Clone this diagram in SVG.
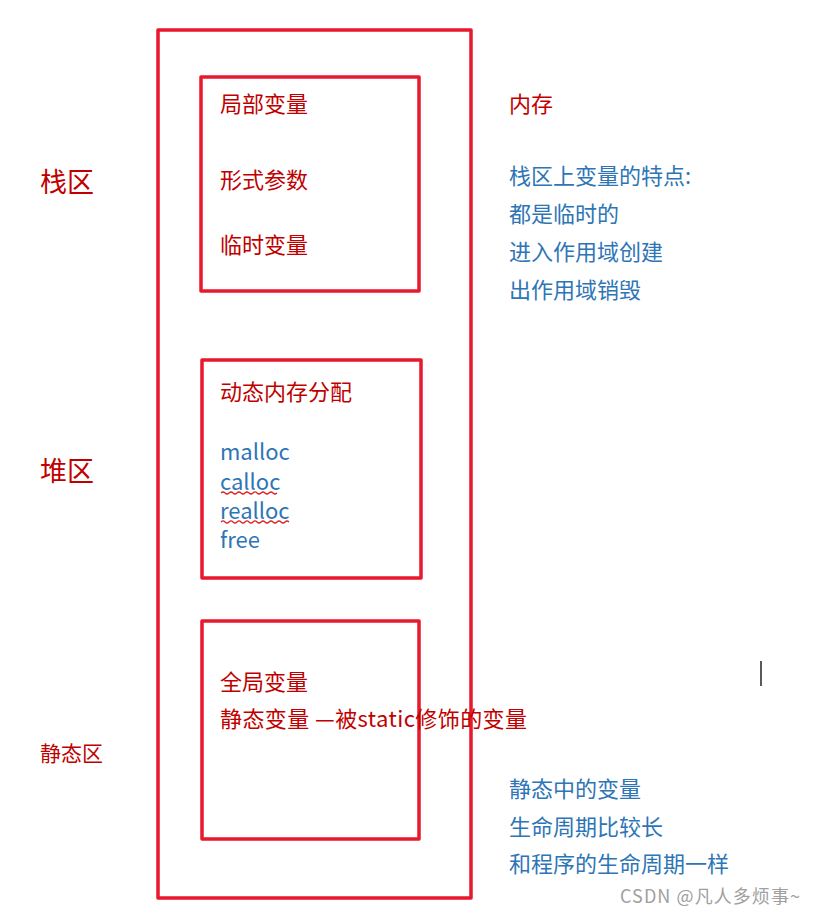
<svg xmlns="http://www.w3.org/2000/svg" width="817" height="917" viewBox="0 0 817 917">
<style>
.box{fill:none;stroke:#e8192c;stroke-width:3.5;stroke-linejoin:round}
text{font-family:"Noto Sans CJK SC","Noto Sans",sans-serif;font-size:22px}
.r{fill:#c00000}
.b{fill:#2e75b6}
.big{font-size:27px}
.wm{fill:#a0a0a0;font-size:18px}
.wave{fill:none;stroke:#e02020;stroke-width:1.2}
</style>
<rect width="817" height="917" fill="#ffffff"/>
<g id="memory">
<rect class="box" x="158" y="30" width="313" height="868"/>
<text class="r" x="509" y="112">内存</text>
</g>
<g id="stack">
<rect class="box" x="201" y="77" width="218" height="214"/>
<text class="r" x="220" y="112">局部变量</text>
<text class="r" x="220" y="188">形式参数</text>
<text class="r" x="220" y="253">临时变量</text>
<text class="r big" x="40" y="192">栈区</text>
</g>
<g id="heap">
<rect class="box" x="202" y="360" width="219" height="218"/>
<text class="r" x="220" y="400">动态内存分配</text>
<text class="b" x="220" y="460">malloc</text>
<text class="b" x="220" y="490">calloc</text>
<text class="b" x="220" y="519">realloc</text>
<text class="b" x="220" y="548">free</text>
<text class="r big" x="40" y="481">堆区</text>
</g>
<g id="static">
<rect class="box" x="202" y="621" width="217" height="218"/>
<text class="r" x="220" y="690">全局变量</text>
<text class="r" x="220" y="727" textLength="307" lengthAdjust="spacing">静态变量 —被static修饰的变量</text>
<text class="r" x="40" y="761" style="font-size:21px">静态区</text>
</g>
<g id="notes">
<text class="b" x="509" y="184">栈区上变量的特点:</text>
<text class="b" x="509" y="222">都是临时的</text>
<text class="b" x="509" y="260">进入作用域创建</text>
<text class="b" x="509" y="298">出作用域销毁</text>
<text class="b" x="509" y="797">静态中的变量</text>
<text class="b" x="509" y="835">生命周期比较长</text>
<text class="b" x="509" y="872">和程序的生命周期一样</text>
</g>
<g id="connectors">
<path class="wave" d="M221,493 q2,-2 4,0 t4,0 t4,0 t4,0 t4,0 t4,0 t4,0 t4,0 t4,0 t4,0 t4,0 t4,0 t4,0 t4,0"/>
<path class="wave" d="M221,522 q2,-2 4,0 t4,0 t4,0 t4,0 t4,0 t4,0 t4,0 t4,0 t4,0 t4,0 t4,0 t4,0 t4,0 t4,0 t4,0 t4,0 t4,0"/>
<line x1="761" y1="661" x2="761" y2="686" stroke="#000" stroke-width="1.3"/>
</g>
<text class="wm" x="620" y="903" textLength="180" lengthAdjust="spacing">CSDN @凡人多烦事~</text>
</svg>
